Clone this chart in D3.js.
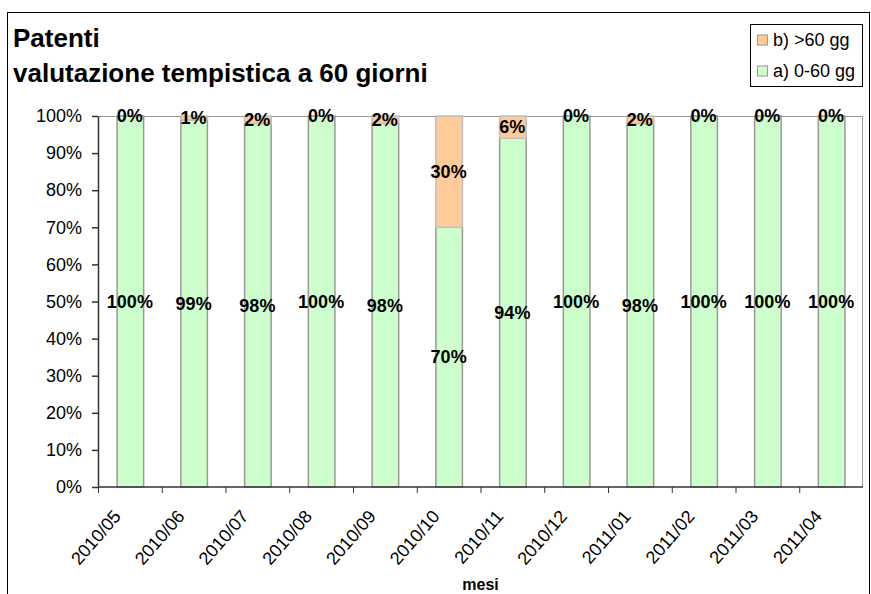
<!DOCTYPE html>
<html>
<head>
<meta charset="utf-8">
<script src="https://cdn.jsdelivr.net/npm/d3@7"></script>
<style>
    body { margin: 0; background: #fff; }
    svg text { font-family: Arial, "Liberation Sans", sans-serif; fill: #000; }
    .axis path, .axis line { stroke: #333; }
    .axis text { font-size: 18px; }
    .lbl { font-size: 18px; font-weight: bold; }
</style>
</head>
<body>
<div id="chart"></div>
<script>
const months = ['2010/05', '2010/06', '2010/07', '2010/08', '2010/09', '2010/10',
                '2010/11', '2010/12', '2011/01', '2011/02', '2011/03', '2011/04'];
// a) 0-60 gg
const onTime = [100, 99, 98, 100, 98, 70, 94, 100, 98, 100, 100, 100];
// b) >60 gg
const late = [0, 1, 2, 0, 2, 30, 6, 0, 2, 0, 0, 0];
const yTicks = [0, 10, 20, 30, 40, 50, 60, 70, 80, 90, 100];
const seriesNames = ['a) 0-60 gg', 'b) >60 gg'];
const colors = {fill: ['#ccffcc', '#ffcc99'], stroke: ['#999999', '#c0c0c0']};

const width = 871, height = 594;
const padding = {top: 116, right: 8, bottom: 107, left: 98};
const innerW = width - padding.left - padding.right,
      innerH = height - padding.top - padding.bottom;

const svg = d3.select('#chart')
    .append('svg')
    .attr('width', width)
    .attr('height', height);

// outer chart frame (runs off the right and bottom edges)
svg.append('rect')
    .attr('x', 7.5).attr('y', 12.5)
    .attr('width', 862).attr('height', 600)
    .attr('fill', 'none')
    .attr('stroke', '#000');

svg.append('text')
    .attr('x', 13).attr('y', 47)
    .style('font-size', '26px').style('font-weight', 'bold')
    .text('Patenti');
svg.append('text')
    .attr('x', 13).attr('y', 82)
    .style('font-size', '26px').style('font-weight', 'bold')
    .text('valutazione tempistica a 60 giorni');

const focus = svg.append('g')
    .attr('transform', `translate(${padding.left}, ${padding.top})`);

const xScale = d3.scaleBand()
    .domain(months)
    .range([0, innerW])
    .paddingInner(140 / 240)
    .paddingOuter(70 / 240);
const yScale = d3.scaleLinear()
    .domain([0, 100])
    .range([innerH, 0]);

// plot area border (top / right)
focus.append('path')
    .attr('d', `M0,0.5H${innerW - 0.5}V${innerH}`)
    .attr('fill', 'none')
    .attr('stroke', '#999');

// stacked data
const rows = months.map((m, i) => ({month: m, a: onTime[i], b: late[i]}));
const stack = d3.stack().keys(['a', 'b'])(rows);

const layers = focus.selectAll('.layer')
    .data(stack)
    .enter()
    .append('g')
    .attr('class', 'layer');

layers.selectAll('rect')
    .data((d, k) => d.map(s => ({s, k})))
    .enter()
    .filter(d => d.s[1] - d.s[0] > 0)
    .append('rect')
    .attr('x', d => xScale(d.s.data.month) + 0.5)
    .attr('y', d => yScale(d.s[1]))
    .attr('width', xScale.bandwidth())
    .attr('height', d => yScale(d.s[0]) - yScale(d.s[1]))
    .attr('fill', d => colors.fill[d.k])
    .attr('stroke', d => colors.stroke[d.k])
    .attr('stroke-width', 1.5);

// value labels centred in each segment
layers.selectAll('text')
    .data(d => d)
    .enter()
    .append('text')
    .attr('class', 'lbl')
    .attr('x', d => xScale(d.data.month) + xScale.bandwidth() / 2)
    .attr('y', d => yScale((d[0] + d[1]) / 2))
    .attr('dy', '0.35em')
    .attr('text-anchor', 'middle')
    .text(d => (d[1] - d[0]) + '%');

const yAxis = d3.axisLeft(yScale)
    .tickValues(yTicks)
    .tickSizeInner(6)
    .tickSizeOuter(0)
    .tickPadding(10)
    .tickFormat(d => d + '%');
focus.append('g')
    .attr('class', 'axis axis-y')
    .call(yAxis)
    .call(g => g.selectAll('line, path').attr('stroke-width', 1.5));

// x axis: ticks sit between categories
const xAxis = focus.append('g')
    .attr('class', 'axis axis-x')
    .attr('transform', `translate(0, ${innerH})`);
xAxis.append('line')
    .attr('x1', 0).attr('x2', innerW)
    .attr('stroke-width', 1.5);
const step = xScale.step();
xAxis.selectAll('.tick')
    .data(d3.range(months.length))
    .enter()
    .append('line')
    .attr('class', 'tick')
    .attr('x1', i => i * step + 0.5).attr('x2', i => i * step + 0.5)
    .attr('y1', 0).attr('y2', 6);
xAxis.selectAll('text')
    .data(months)
    .enter()
    .append('text')
    .attr('text-anchor', 'end')
    .attr('transform', d => `translate(${xScale(d) + xScale.bandwidth() / 2 - 8}, 30) rotate(-49)`)
    .text(d => d);

svg.append('text')
    .attr('x', padding.left + innerW / 2)
    .attr('y', 590)
    .attr('text-anchor', 'middle')
    .style('font-size', '16px').style('font-weight', 'bold')
    .text('mesi');

// legend
const legend = svg.append('g').attr('transform', 'translate(750, 24)');
legend.append('rect')
    .attr('x', 0.5).attr('y', 0.5)
    .attr('width', 112).attr('height', 62)
    .attr('fill', '#fff')
    .attr('stroke', '#000');
const items = legend.selectAll('.item')
    .data([1, 0])
    .enter()
    .append('g')
    .attr('transform', (k, i) => `translate(7, ${16 + i * 31})`);
items.append('rect')
    .attr('x', 0.5).attr('y', -5)
    .attr('width', 10).attr('height', 10)
    .attr('fill', k => colors.fill[k])
    .attr('stroke', '#999');
items.append('text')
    .attr('x', 16)
    .attr('dy', '0.35em')
    .style('font-size', '18px')
    .text(k => seriesNames[k]);
</script>
</body>
</html>
